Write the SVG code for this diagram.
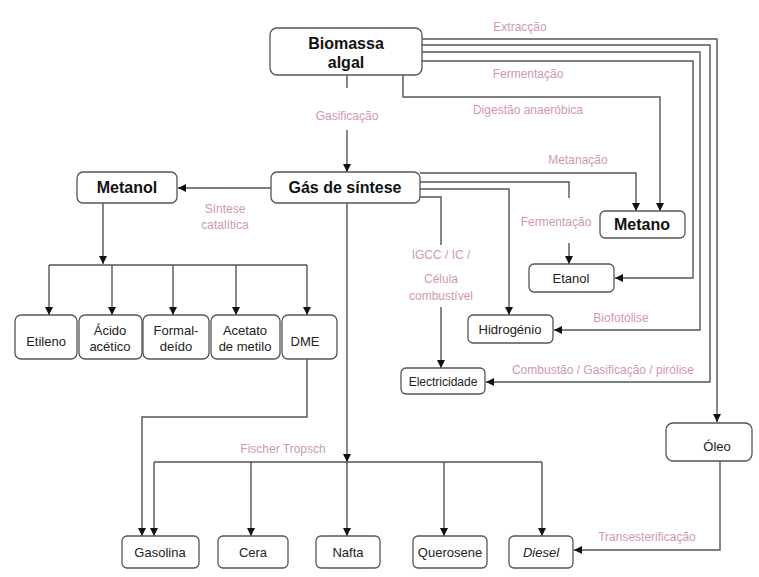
<svg xmlns="http://www.w3.org/2000/svg" width="759" height="577" viewBox="0 0 759 577">
<style>
.bx{fill:#fff;stroke:#555;stroke-width:1.3}
.t{font-family:"Liberation Sans",Arial,sans-serif;font-size:13px;fill:#222;text-anchor:middle}
.tb{font-family:"Liberation Sans",Arial,sans-serif;font-size:16px;font-weight:bold;fill:#111;text-anchor:middle}
.lb{font-family:"Liberation Sans",Arial,sans-serif;font-size:12px;fill:#cf9aa6;text-anchor:middle}
.c{fill:none;stroke:#555;stroke-width:1.4}
.a{marker-end:url(#ah)}
</style>
<defs>
<marker id="ah" markerUnits="userSpaceOnUse" markerWidth="9" markerHeight="9" refX="8" refY="4" orient="auto">
<path d="M0,0 L8,4 L0,8 z" fill="#111"/>
</marker>
</defs>
<rect width="759" height="577" fill="#fff"/>
<g id="connectors">
<path class="c" d="M347,75 V88"/>
<path class="c a" d="M347,130 V172"/>
<path class="c a" d="M422,39 H717 V422"/>
<path class="c a" d="M422,45 H710 V382 H486"/>
<path class="c a" d="M422,52 H700 V330 H554"/>
<path class="c a" d="M422,61 H693 V278 H615"/>
<path class="c a" d="M403,75 V97 H660 V211"/>
<path class="c a" d="M420,173 H636 V211"/>
<path class="c" d="M420,182 H569 V198"/>
<path class="c a" d="M569,243 V264"/>
<path class="c a" d="M420,189 H509 V315"/>
<path class="c" d="M420,197 H441 V245"/>
<path class="c a" d="M441,307 V368"/>
<path class="c a" d="M271,188 H178"/>
<path class="c a" d="M103,203 V264"/>
<path class="c" d="M49,265 H307"/>
<path class="c a" d="M49,265 V315"/>
<path class="c a" d="M112,265 V315"/>
<path class="c a" d="M173,265 V315"/>
<path class="c a" d="M236,265 V315"/>
<path class="c a" d="M307,265 V315"/>
<path class="c a" d="M307,359 V417 H142 V536"/>
<path class="c a" d="M347,203 V462"/>
<path class="c a" d="M347,462 V536"/>
<path class="c" d="M154,462 H542"/>
<path class="c a" d="M154,462 V536"/>
<path class="c a" d="M251,462 V536"/>
<path class="c a" d="M444,462 V536"/>
<path class="c a" d="M542,462 V536"/>
<path class="c a" d="M720,461 V550 H574"/>
</g>
<g id="labels">
<text class="lb" x="520" y="31">Extracção</text>
<text class="lb" x="528" y="78">Fermentação</text>
<text class="lb" x="528" y="114">Digestão anaeróbica</text>
<text class="lb" x="347" y="120">Gasificação</text>
<text class="lb" x="578" y="164">Metanação</text>
<text class="lb" x="556" y="226">Fermentação</text>
<text class="lb" x="225" y="213">Síntese</text>
<text class="lb" x="225" y="229">catalítica</text>
<text class="lb" x="441" y="259">IGCC / IC /</text>
<text class="lb" x="441" y="283">Célula</text>
<text class="lb" x="441" y="300">combustível</text>
<text class="lb" x="621" y="322">Biofotólise</text>
<text class="lb" x="603" y="374">Combustão / Gasificação / pirólise</text>
<text class="lb" x="283" y="453">Fischer Tropsch</text>
<text class="lb" x="647" y="541">Transesterificação</text>
</g>
<g id="biomassa"><rect class="bx" x="270" y="28" width="152" height="47" rx="7"/><text class="tb" x="346" y="49">Biomassa</text><text class="tb" x="346" y="68">algal</text></g>
<g id="gas"><rect class="bx" x="271" y="172" width="149" height="31" rx="6"/><text class="tb" x="345" y="193">Gás de síntese</text></g>
<g id="metanol"><rect class="bx" x="77" y="172" width="100" height="31" rx="6"/><text class="tb" x="127" y="193">Metanol</text></g>
<g id="metano"><rect class="bx" x="600" y="211" width="85" height="27" rx="5"/><text class="tb" x="642" y="230">Metano</text></g>
<g id="etanol"><rect class="bx" x="529" y="264" width="85" height="28" rx="5"/><text class="t" x="571" y="283">Etanol</text></g>
<g id="hidrogenio"><rect class="bx" x="468" y="315" width="85" height="28" rx="5"/><text class="t" x="510" y="334">Hidrogénio</text></g>
<g id="electricidade"><rect class="bx" x="401" y="368" width="84" height="26" rx="5"/><text class="t" x="443" y="386" style="font-size:12px">Electricidade</text></g>
<g id="etileno"><rect class="bx" x="15" y="315" width="62" height="44" rx="6"/><text class="t" x="46" y="346">Etileno</text></g>
<g id="acido"><rect class="bx" x="79" y="315" width="63" height="44" rx="6"/><text class="t" x="110" y="335">Ácido</text><text class="t" x="110" y="351">acético</text></g>
<g id="formaldeido"><rect class="bx" x="143" y="315" width="66" height="44" rx="6"/><text class="t" x="176" y="335">Formal-</text><text class="t" x="176" y="351">deído</text></g>
<g id="acetato"><rect class="bx" x="211" y="315" width="69" height="44" rx="6"/><text class="t" x="245" y="335">Acetato</text><text class="t" x="245" y="351">de metilo</text></g>
<g id="dme"><rect class="bx" x="282" y="315" width="55" height="44" rx="6"/><text class="t" x="305" y="346">DME</text></g>
<g id="oleo"><rect class="bx" x="666" y="423" width="86" height="38" rx="7"/><text class="t" x="717" y="451">Óleo</text></g>
<g id="gasolina"><rect class="bx" x="122" y="536" width="77" height="32" rx="5"/><text class="t" x="160" y="557">Gasolina</text></g>
<g id="cera"><rect class="bx" x="218" y="536" width="70" height="32" rx="5"/><text class="t" x="253" y="557">Cera</text></g>
<g id="nafta"><rect class="bx" x="316" y="536" width="64" height="32" rx="5"/><text class="t" x="348" y="557">Nafta</text></g>
<g id="querosene"><rect class="bx" x="413" y="536" width="74" height="32" rx="5"/><text class="t" x="450" y="557">Querosene</text></g>
<g id="diesel"><rect class="bx" x="509" y="536" width="64" height="32" rx="5"/><text class="t" x="541" y="557" font-style="italic">Diesel</text></g>
</svg>
